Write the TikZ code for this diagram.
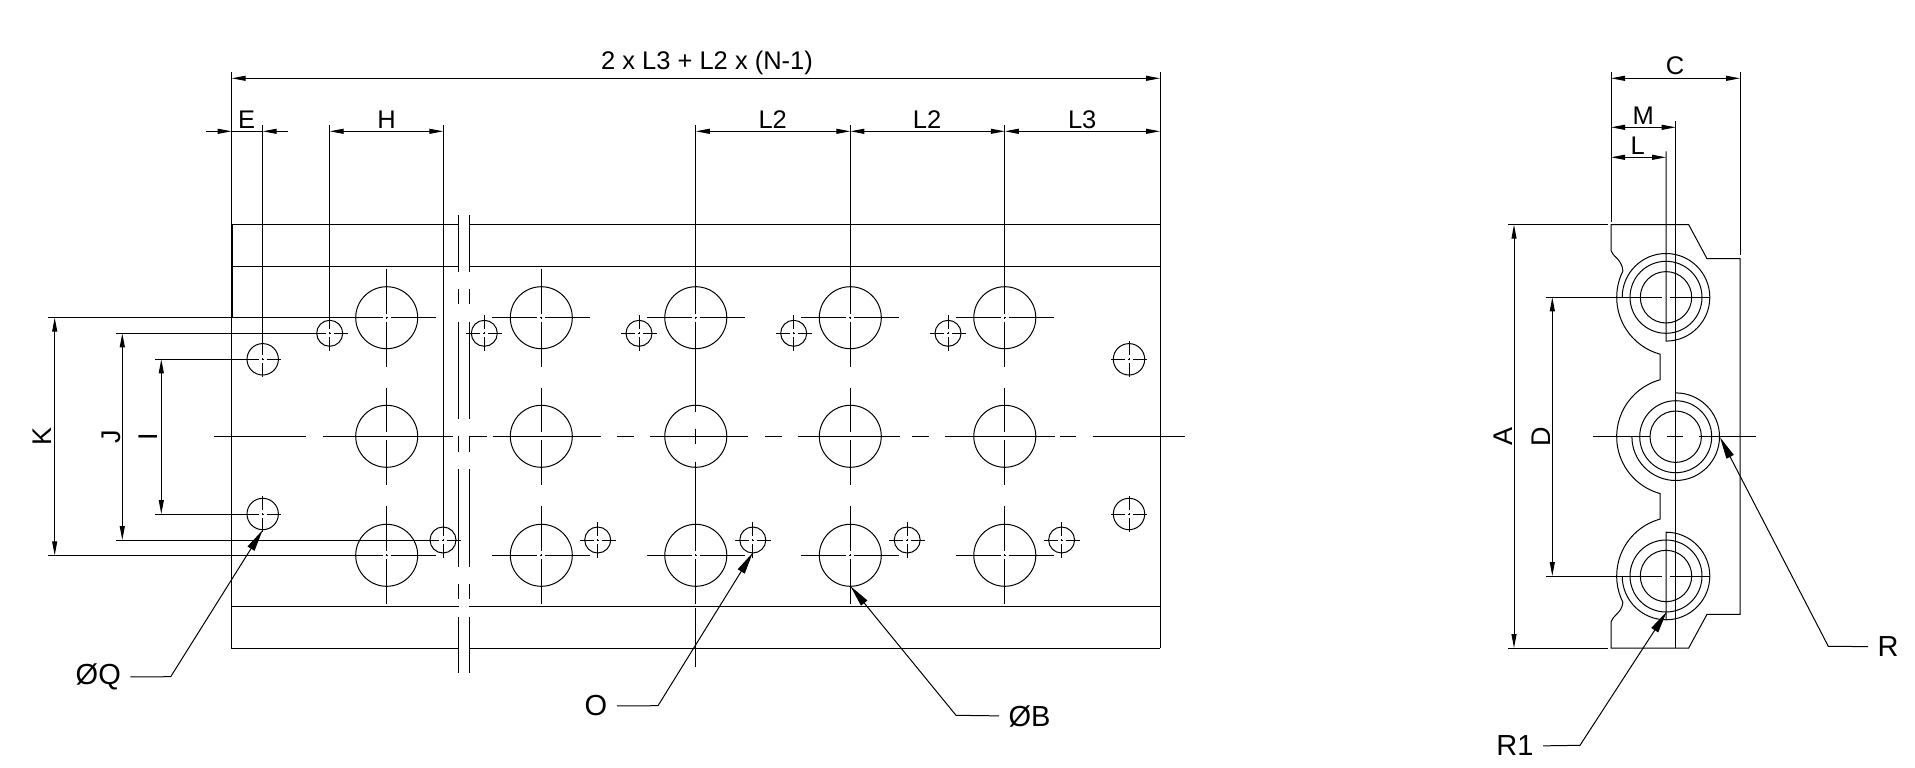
\documentclass[tikz,border=0pt]{standalone}
\usepackage{fontspec}
\setmainfont{Liberation Sans}
\usetikzlibrary{arrows.meta}

% centre cross of a hole: x, y, arm
\newcommand{\centermark}[3]{%
  \draw (#1-#3,#2) -- (#1-4,#2) (#1-1,#2) -- (#1+1,#2) (#1+4,#2) -- (#1+#3,#2)
        (#1,#2-#3) -- (#1,#2-4) (#1,#2-1) -- (#1,#2+1) (#1,#2+4) -- (#1,#2+#3);}

\tikzset{
  dimlabel/.style={font=\fontsize{25.5}{25.5}\selectfont, inner sep=0pt},
  sidelabel/.style={font=\fontsize{27}{27}\selectfont, inner sep=0pt, rotate=90},
  leaderlabel/.style={font=\fontsize{29}{29}\selectfont, inner sep=0pt},
  dimline/.style={{Stealth[length=14pt,width=5pt,inset=0pt]}-{Stealth[length=14pt,width=5pt,inset=0pt]}},
  dimtip/.style={-{Stealth[length=14pt,width=5pt,inset=0pt]}},
  leaderline/.style={shorten <=9pt, -{Stealth[length=22pt,width=8pt,inset=0pt]}}
}

\begin{document}
\begin{tikzpicture}[x=1pt, y=-1pt, line width=1pt]
        \useasboundingbox (0,0) rectangle (1915,768);

        % Front view rails and edges
        \draw (231.7,72) -- (231.7,648.3) -- (458.7,648.3);
        \draw (469,648.3) -- (1160,648.3);
        \draw (1160,72) -- (1160,648.3);
        \draw[line width=1.6pt] (231.7,224.7) -- (231.7,317.7);
        \foreach \railY in {224.7,266,606.7} {
          \draw (231.7,\railY) -- (458.7,\railY);
          \draw (469,\railY) -- (1160,\railY);
        }

        % Break lines
        \foreach \breakX in {458.7,469} {
          \draw (\breakX,215) -- (\breakX,272) (\breakX,289) -- (\breakX,304.3)
                (\breakX,321.7) -- (\breakX,419.3) (\breakX,436) -- (\breakX,452.3)
                (\breakX,469.3) -- (\breakX,566.7) (\breakX,584) -- (\breakX,599.3)
                (\breakX,616.7) -- (\breakX,673.3);
        }

        % Centre line of the middle row
        \draw (214,436.3) -- (306,436.3) (322.7,436.3) -- (453.3,436.3)
              (469.3,436.3) -- (486.7,436.3) (492.7,436.3) -- (600.7,436.3)
              (617.3,436.3) -- (634,436.3) (650,436.3) -- (748.3,436.3)
              (765,436.3) -- (781.7,436.3) (797.7,436.3) -- (900,436.3)
              (912.3,436.3) -- (929,436.3) (945,436.3) -- (1055,436.3)
              (1060,436.3) -- (1076,436.3) (1092.7,436.3) -- (1185,436.3);

        % Large holes
        \foreach \holeX in {386.7,541.3,695.8,850.3,1004.8} {
          \draw (\holeX,317.7) circle[radius=31];
          \draw (\holeX,436.3) circle[radius=31];
          \draw (\holeX,555.3) circle[radius=31];
          \centermark{\holeX}{317.7}{49}
          \centermark{\holeX}{555.3}{49}
        }
        \foreach \holeX in {386.7,541.3,850.3,1004.8} {
          \draw (\holeX,388) -- (\holeX,432) (\holeX,440) -- (\holeX,485);
        }
        \draw (695.8,366) -- (695.8,412) (695.8,428.7) -- (695.8,444.3)
              (695.8,461.7) -- (695.8,506) (695.8,608.3) -- (695.8,666.7);

        % Small holes
        \foreach \holeX in {329.7,484.3,639,793.7,948} {
          \draw (\holeX,333.3) circle[radius=13];
          \centermark{\holeX}{333.3}{18}
        }
        \foreach \holeX in {443,597.7,752.8,907.2,1061.6} {
          \draw (\holeX,540) circle[radius=13];
          \centermark{\holeX}{540}{18}
        }
        \foreach \holeX/\holeY in {262.7/359.3,262.7/514,1129/359.3,1129/514} {
          \draw (\holeX,\holeY) circle[radius=15.7];
          \centermark{\holeX}{\holeY}{18}
        }

        % Front view extension lines
        \draw (262.7,125) -- (262.7,341);
        \draw (329.7,125) -- (329.7,315);
        \draw (443.3,125) -- (443.3,522);
        \draw (695.8,125) -- (695.8,269);
        \draw (850.3,125) -- (850.3,269);
        \draw (1004.8,125) -- (1004.8,269);
        \draw (48.3,317.7) -- (337.7,317.7);
        \draw (48.3,555.3) -- (337.7,555.3);
        \draw (116,333.3) -- (311.7,333.3);
        \draw (116,540) -- (425,540);
        \draw (155,359.3) -- (244.7,359.3);
        \draw (155,514) -- (244.7,514);

        % Front view dimensions
        \draw[dimline] (231.7,78.3) -- (1160,78.3);
        \draw[dimline] (329.7,131.3) -- (443.3,131.3);
        \draw[dimline] (695.8,131.3) -- (850.3,131.3);
        \draw[dimline] (850.3,131.3) -- (1004.8,131.3);
        \draw[dimline] (1004.8,131.3) -- (1160,131.3);
        \draw[dimtip] (206,131.3) -- (231.7,131.3);
        \draw (231.7,131.3) -- (262.7,131.3);
        \draw[dimtip] (288.3,131.3) -- (262.7,131.3);
        \draw[dimline] (54.7,317.7) -- (54.7,555.3);
        \draw[dimline] (122.3,333.3) -- (122.3,540);
        \draw[dimline] (161.3,359.3) -- (161.3,514);

        % Front view labels
        \node[dimlabel] (total) at (707,62.5) {2 x L3 + L2 x (N-1)};
        \node[dimlabel] (dimE) at (246.7,119.3) {E};
        \node[dimlabel] (dimH) at (386.7,119.3) {H};
        \node[dimlabel] (pitchA) at (772.7,119.3) {L2};
        \node[dimlabel] (pitchB) at (927,119.3) {L2};
        \node[dimlabel] (endL) at (1082.2,119.3) {L3};
        \node[sidelabel] (dimK) at (42.5,436.3) {K};
        \node[sidelabel] (dimJ) at (111.5,436.3) {J};
        \node[sidelabel] (dimI) at (148.7,436.3) {I};
        \node[leaderlabel] (holeQ) at (98.3,677) {ØQ};
        \node[leaderlabel] (holeO) at (596,706) {O};
        \node[leaderlabel, anchor=west] (holeB) at (1008,716) {ØB};

        % Front view leaders
        \draw[leaderline] (holeQ.east) -- (170.7,676.7) -- (262.7,530);
        \draw[leaderline] (holeO.east) -- (658,705.7) -- (752.8,552.7);
        \draw[leaderline] (holeB.west) -- (956,715.3) -- (850.3,586);

        % Side view outline
        \draw (1611,224.7) -- (1611,250.7) .. controls (1612,256) and (1622,259) .. (1622.9,271)
              arc[start angle=206.5, end angle=105.4, radius=59] -- (1660,379.8)
              arc[start angle=254.6, end angle=105.4, radius=59] -- (1660,519.1)
              arc[start angle=254.6, end angle=153.5, radius=59]
              .. controls (1622,613) and (1612,616) .. (1611,622) -- (1611,648) -- (1688.7,648)
              -- (1707,614.3) -- (1740,614.3) -- (1740,258.7) -- (1707,258.7)
              -- (1688.7,224.7) -- cycle;
        \draw (1675.7,121.3) -- (1675.7,648);

        % Side view ports
        \foreach \portX/\portY in {1666/297.3,1675.7/436.7,1666/576} {
          \draw (\portX,\portY) circle[radius=25.7];
          \draw (\portX,\portY) circle[radius=36];
        }
        \draw (1622.2,297.3) arc[start angle=180, end angle=450, radius=43.8] -- (1666,151.3);
        \draw (1631.9,436.7) arc[start angle=180, end angle=-90, radius=43.8];
        \draw (1622.2,576) arc[start angle=180, end angle=-90, radius=43.8] -- (1666,620);

        % Side view centre lines
        \draw (1546,297.3) -- (1662,297.3) (1670,297.3) -- (1710,297.3);
        \draw (1546,576) -- (1662,576) (1670,576) -- (1710,576);
        \draw (1593.3,436.7) -- (1650,436.7) (1666.7,436.7) -- (1682.7,436.7) (1699.3,436.7) -- (1756.3,436.7);

        % Side view extension lines
        \draw (1611,72) -- (1611,221.7);
        \draw (1740,72) -- (1740,255);
        \draw (1508.3,224.7) -- (1607.7,224.7);
        \draw (1508.3,648) -- (1607.7,648);

        % Side view dimensions
        \draw[dimline] (1611,78.3) -- (1740,78.3);
        \draw[dimline] (1611,127.3) -- (1675.7,127.3);
        \draw[dimline] (1611,157.3) -- (1666,157.3);
        \draw[dimline] (1514,224.7) -- (1514,648);
        \draw[dimline] (1552.3,297.3) -- (1552.3,576);

        % Side view labels
        \node[dimlabel] (widthC) at (1675,66) {C};
        \node[dimlabel] (widthM) at (1643.3,116) {M};
        \node[dimlabel] (widthL) at (1637.7,145.7) {L};
        \node[sidelabel] (heightA) at (1503.3,436.7) {A};
        \node[sidelabel] (heightD) at (1541,436.7) {D};
        \node[leaderlabel] (portR) at (1888,646.7) {R};
        \node[leaderlabel] (portRone) at (1515,746) {R1};

        % Side view leaders
        \draw[leaderline] (portR.west) -- (1828.3,646.3) -- (1720,437.3);
        \draw[leaderline] (portRone.east) -- (1580,745.3) -- (1666.7,611.7);

\end{tikzpicture}
\end{document}
